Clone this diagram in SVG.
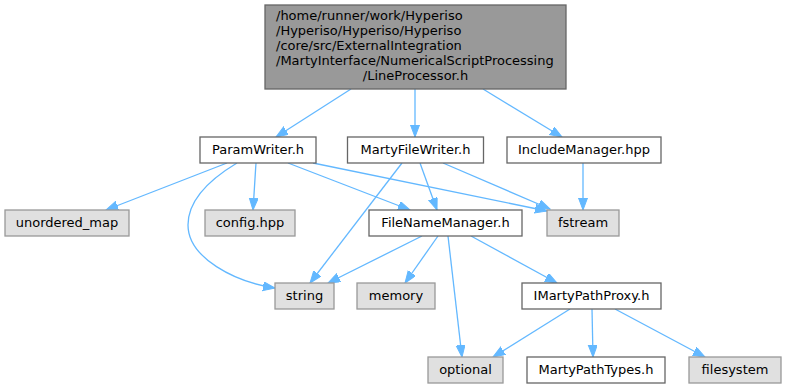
<svg xmlns="http://www.w3.org/2000/svg" width="786" height="388" viewBox="0 0 786 388">
<defs>
<style>
text{font-family:"DejaVu Sans","Liberation Sans",sans-serif;font-size:13px;fill:#000}
.c{text-anchor:middle}
.w rect{fill:#fff;stroke:#666;stroke-width:1.3}
.g rect{fill:#e0e0e0;stroke:#999;stroke-width:1.3}
.t rect{fill:#999;stroke:#666;stroke-width:1.3}
#edges path{fill:none;stroke:#63b8ff;stroke-width:1.3;marker-end:url(#ah)}
</style>
<marker id="ah" markerUnits="userSpaceOnUse" markerWidth="13" markerHeight="10" refX="12" refY="4.5" orient="auto">
<path d="M0,0 L12,4.5 L0,9 z" fill="#63b8ff" stroke="#63b8ff" stroke-width="1"/>
</marker>
</defs>
<rect width="786" height="388" fill="#fff"/>
<g id="edges">
<path d="M351,89 L276,137"/>
<path d="M415,89 L415,137"/>
<path d="M483,89 L562,137"/>
<path d="M227,163 L106,210"/>
<path d="M256,163 L253,210"/>
<path d="M237,163 C207,181 188,202 188,225 C188,258 235,282 275,288"/>
<path d="M288,163 L410,210"/>
<path d="M313,163 L547,211"/>
<path d="M402,163 L310,283"/>
<path d="M420,163 L437,210"/>
<path d="M443,163 L550,209"/>
<path d="M583,163 L583,210"/>
<path d="M422,236 L328,283"/>
<path d="M438,236 L405,283"/>
<path d="M448,236 L462,357"/>
<path d="M471,236 L557,283"/>
<path d="M570,309 L493,357"/>
<path d="M592,309 L593,357"/>
<path d="M615,309 L705,357"/>
</g>
<g id="n_top" class="t"><rect x="265" y="5" width="301" height="84"/>
<text x="276" y="20">/home/runner/work/Hyperiso</text>
<text x="276" y="35">/Hyperiso/Hyperiso/Hyperiso</text>
<text x="276" y="50">/core/src/ExternalIntegration</text>
<text x="276" y="64.5">/MartyInterface/NumericalScriptProcessing</text>
<text x="415.5" y="79.5" class="c">/LineProcessor.h</text></g>
<g id="n_paramwriter" class="w"><rect x="200" y="137" width="116" height="26"/><text x="258" y="154" class="c">ParamWriter.h</text></g>
<g id="n_martyfilewriter" class="w"><rect x="347.500" y="137" width="136" height="26"/><text x="415.5" y="154" class="c">MartyFileWriter.h</text></g>
<g id="n_includemanager" class="w"><rect x="507" y="137" width="154" height="26"/><text x="584" y="154" class="c">IncludeManager.hpp</text></g>
<g id="n_unordered_map" class="g"><rect x="5" y="210" width="124" height="26"/><text x="67" y="227" class="c">unordered_map</text></g>
<g id="n_config" class="g"><rect x="205" y="210" width="90" height="26"/><text x="250" y="227" class="c">config.hpp</text></g>
<g id="n_filenamemanager" class="w"><rect x="369" y="210" width="153" height="26"/><text x="445.5" y="227" class="c">FileNameManager.h</text></g>
<g id="n_fstream" class="g"><rect x="547" y="210" width="72" height="26"/><text x="583" y="227" class="c">fstream</text></g>
<g id="n_string" class="g"><rect x="275" y="283" width="59" height="26"/><text x="304.5" y="300" class="c">string</text></g>
<g id="n_memory" class="g"><rect x="357" y="283" width="78" height="26"/><text x="396" y="300" class="c">memory</text></g>
<g id="n_imartypathproxy" class="w"><rect x="522" y="283" width="139" height="26"/><text x="591.5" y="300" class="c">IMartyPathProxy.h</text></g>
<g id="n_optional" class="g"><rect x="428" y="357" width="75" height="26"/><text x="465.5" y="374" class="c">optional</text></g>
<g id="n_martypathtypes" class="w"><rect x="527" y="357" width="138" height="26"/><text x="596" y="374" class="c">MartyPathTypes.h</text></g>
<g id="n_filesystem" class="g"><rect x="689" y="357" width="92" height="26"/><text x="735" y="374" class="c">filesystem</text></g>
</svg>
